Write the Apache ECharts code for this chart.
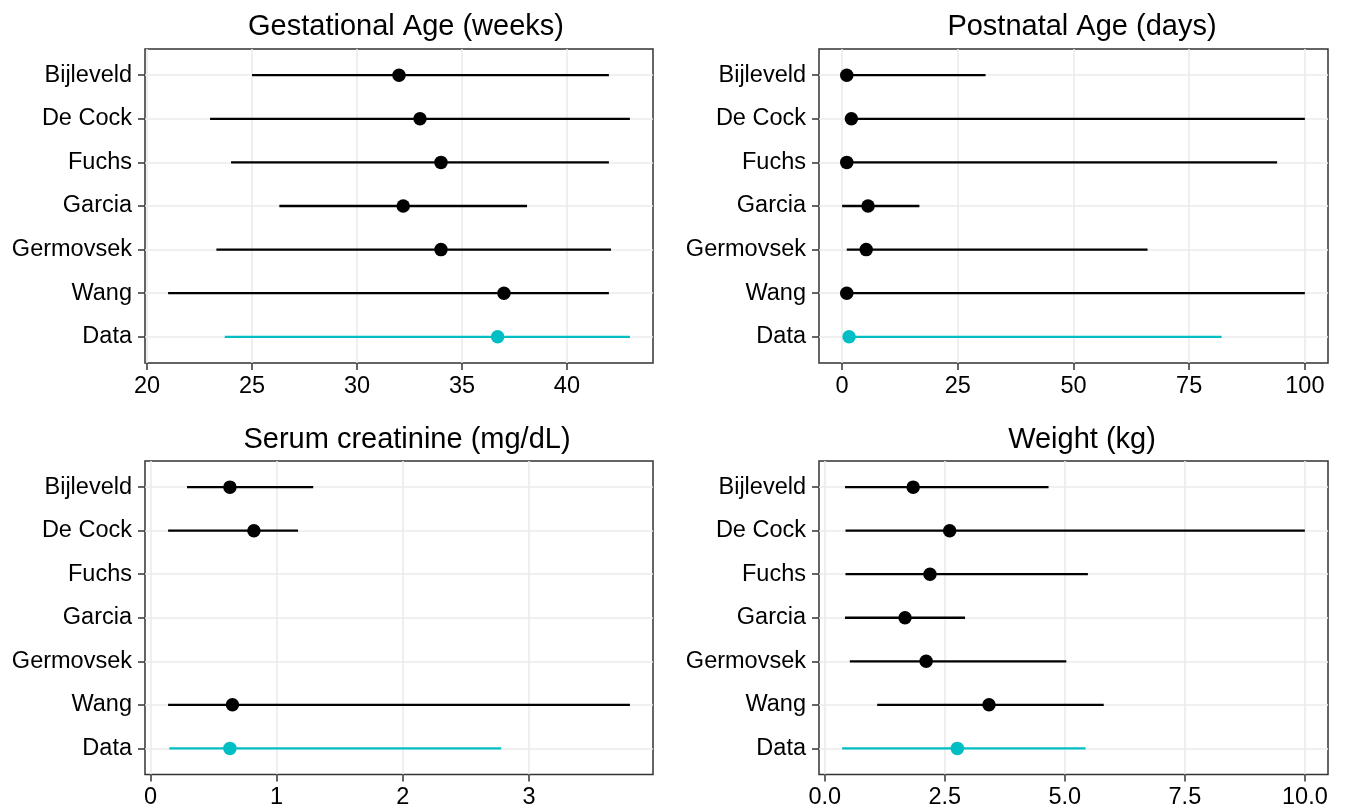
<!DOCTYPE html>
<html>
<head>
<meta charset="utf-8">
<script src="https://cdn.jsdelivr.net/npm/echarts@6/dist/echarts.min.js"></script>
<style>
html,body{margin:0;padding:0;background:#fff;}
#chart{width:1358px;height:810px;}
</style>
</head>
<body>
<div id="chart"></div>
<script>
// ---- data ----
const categories = ['Bijleveld', 'De Cock', 'Fuchs', 'Garcia', 'Germovsek', 'Wang', 'Data'];
const titles = ['Gestational Age (weeks)', 'Postnatal Age (days)', 'Serum creatinine (mg/dL)', 'Weight (kg)'];

const gaLow  = [25, 23, 24, 26.3, 23.3, 21, 23.7];
const gaMid  = [32, 33, 34, 32.2, 34, 37, 36.7];
const gaHigh = [42, 43, 42, 38.1, 42.1, 42, 43];

const pnaLow  = [1, 1, 1, 0, 1, 1, 1];
const pnaMid  = [1, 2, 1, 5.6, 5.2, 1, 1.5];
const pnaHigh = [31, 100, 94, 16.7, 66, 100, 82];

const scrLow  = [0.29, 0.14, null, null, null, 0.14, 0.15];
const scrMid  = [0.63, 0.82, null, null, null, 0.65, 0.63];
const scrHigh = [1.29, 1.17, null, null, null, 3.8, 2.78];

const wtLow  = [0.42, 0.43, 0.43, 0.42, 0.52, 1.09, 0.36];
const wtMid  = [1.84, 2.60, 2.19, 1.67, 2.11, 3.42, 2.76];
const wtHigh = [4.66, 10, 5.48, 2.92, 5.03, 5.81, 5.43];

const gaTicks = [20, 25, 30, 35, 40];
const gaMinor = [22.5, 27.5, 32.5, 37.5, 42.5];
const pnaTicks = [0, 25, 50, 75, 100];
const pnaMinor = [12.5, 37.5, 62.5, 87.5];
const scrTicks = [0, 1, 2, 3];
const scrMinor = [0.5, 1.5, 2.5, 3.5];
const wtTicks = [0, 2.5, 5, 7.5, 10];
const wtMinor = [1.25, 3.75, 6.25, 8.75];
const categoryIndex = [0, 1, 2, 3, 4, 5, 6];

// ---- build ----
const FONT = '"Liberation Sans", Arial, Helvetica, sans-serif';
const TEAL = '#00BFC4';
const panels = [
  {low: gaLow, mid: gaMid, high: gaHigh, ticks: gaTicks, minor: gaMinor, fmt: v => String(v)},
  {low: pnaLow, mid: pnaMid, high: pnaHigh, ticks: pnaTicks, minor: pnaMinor, fmt: v => String(v)},
  {low: scrLow, mid: scrMid, high: scrHigh, ticks: scrTicks, minor: scrMinor, fmt: v => String(v)},
  {low: wtLow, mid: wtMid, high: wtHigh, ticks: wtTicks, minor: wtMinor, fmt: v => Number(v).toFixed(1)}
];
const gridBoxes = [
  {left: 145, top: 49, width: 508, height: 314},
  {left: 819, top: 49, width: 509, height: 314},
  {left: 145, top: 461, width: 508, height: 314},
  {left: 819, top: 461, width: 509, height: 314}
];
const titlePos = [
  {left: 406, top: 12},
  {left: 1082, top: 12},
  {left: 407, top: 425},
  {left: 1082, top: 425}
];

function colorOf(i) { return categories[i] === 'Data' ? TEAL : '#000000'; }

function extentOf(p) {
  const vals = [].concat(p.low, p.mid, p.high).filter(v => v !== null);
  const lo = Math.min.apply(null, vals), hi = Math.max.apply(null, vals);
  const r = hi - lo;
  return [lo - 0.05 * r, hi + 0.05 * r];
}

const grid = [], xAxis = [], yAxis = [], series = [], title = [];

panels.forEach((p, k) => {
  const ext = extentOf(p);
  grid.push(Object.assign({show: true, borderColor: '#333333', borderWidth: 1.5, backgroundColor: '#fff'}, gridBoxes[k]));
  title.push({
    text: titles[k], left: titlePos[k].left, top: titlePos[k].top, textAlign: 'center', padding: 0,
    textStyle: {fontFamily: FONT, fontSize: 29, fontWeight: 'normal', color: '#000'}
  });
  xAxis.push({
    gridIndex: k, type: 'value', position: 'bottom', min: ext[0], max: ext[1],
    axisLine: {show: false, onZero: false},
    axisTick: {show: true, length: 7, lineStyle: {color: '#333333', width: 1.5}, customValues: p.ticks},
    axisLabel: {customValues: p.ticks, formatter: p.fmt, fontFamily: FONT, fontSize: 23.5, color: '#000', margin: 11.5},
    splitLine: {show: true, lineStyle: {color: '#EBEBEB', width: 1.6}},
    minorSplitLine: {show: false}
  });
  yAxis.push({
    gridIndex: k, type: 'value', position: 'left', inverse: true, min: -0.6, max: 6.6,
    axisLine: {show: false, onZero: false},
    axisTick: {show: true, length: 7, lineStyle: {color: '#333333', width: 1.5}, customValues: categoryIndex},
    axisLabel: {customValues: categoryIndex, formatter: v => categories[Math.round(v)], fontFamily: FONT, fontSize: 23.5, color: '#000', margin: 13},
    splitLine: {show: true, lineStyle: {color: '#EBEBEB', width: 1.6}}
  });
});
// minor grid axes
panels.forEach((p, k) => {
  const ext = extentOf(p);
  xAxis.push({
    gridIndex: k, type: 'value', position: 'top', min: ext[0], max: ext[1],
    axisLine: {show: false, onZero: false},
    axisTick: {show: false, customValues: p.minor},
    axisLabel: {show: false, customValues: p.minor},
    splitLine: {show: true, lineStyle: {color: '#EBEBEB', width: 0.9}},
    z: -1
  });
});

panels.forEach((p, k) => {
  const ranges = [], points = [];
  categories.forEach((c, i) => {
    if (p.low[i] !== null && p.high[i] !== null) {
      ranges.push({value: [i, p.low[i], p.high[i]], itemStyle: {color: colorOf(i)}});
    }
    if (p.mid[i] !== null) {
      points.push({value: [p.mid[i], i], itemStyle: {color: colorOf(i), opacity: 1}});
    }
  });
  series.push({
    type: 'custom', xAxisIndex: k, yAxisIndex: k, silent: true, z: 2,
    encode: {x: [1, 2], y: 0},
    renderItem: function (params, api) {
      const y = api.value(0), lo = api.value(1), hi = api.value(2);
      const a = api.coord([lo, y]), b = api.coord([hi, y]);
      return {
        type: 'line',
        shape: {x1: a[0], y1: a[1], x2: b[0], y2: b[1]},
        style: {stroke: api.visual('color'), lineWidth: 2.3}
      };
    },
    data: ranges
  });
  series.push({
    type: 'scatter', xAxisIndex: k, yAxisIndex: k, silent: true, z: 3,
    symbol: 'circle', symbolSize: 13.5,
    itemStyle: {opacity: 1},
    data: points
  });
});

const chart = echarts.init(document.getElementById('chart'), null, {renderer: 'canvas'});
chart.setOption({
  animation: false,
  backgroundColor: '#ffffff',
  title: title,
  grid: grid,
  xAxis: xAxis,
  yAxis: yAxis,
  series: series
});
</script>
</body>
</html>
